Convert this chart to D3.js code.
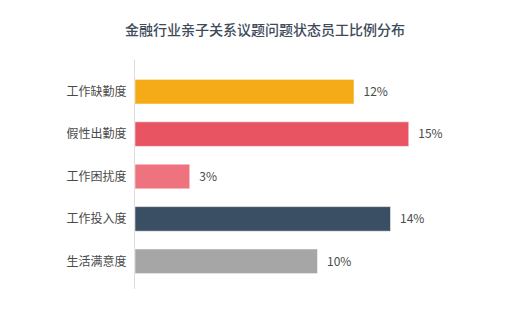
<!DOCTYPE html>
<html>
<head>
<meta charset="utf-8">
<script src="https://cdn.jsdelivr.net/npm/d3@7/dist/d3.min.js"></script>
<style>
  html, body { margin: 0; padding: 0; background: #fff; }
  svg { display: block; font-family: "Noto Sans CJK SC", "Noto Sans", sans-serif; }
</style>
</head>
<body>
<svg id="chart" width="530" height="309"></svg>
<script>
// Share of finance-industry employees by state (%)
const title = "金融行业亲子关系议题问题状态员工比例分布";
const categories = ["工作缺勤度", "假性出勤度", "工作困扰度", "工作投入度", "生活满意度"];
const values = [12, 15, 3, 14, 10];
const barColors = ["#F5AB17", "#E85461", "#EE737E", "#3A4F64", "#A6A6A6"];

const svg = d3.select("#chart");
const axisX = 134.5;

const x = d3.scaleLinear().domain([0, 20]).range([axisX, axisX + 365]);
const y = d3.scaleBand().domain(categories).range([70.5, 282.5])
  .paddingInner(0.42).paddingOuter(0.21);

svg.append("text")
  .attr("x", 265).attr("y", 35)
  .attr("text-anchor", "middle")
  .attr("font-size", 14).attr("font-weight", 500)
  .attr("fill", "#3D4A5A")
  .text(title);

// vertical baseline
svg.append("line")
  .attr("x1", axisX).attr("x2", axisX)
  .attr("y1", 59.5).attr("y2", 289)
  .attr("stroke", "#DDDDDD").attr("stroke-width", 1);

const rows = svg.append("g").selectAll("g").data(categories).join("g");

rows.append("rect")
  .attr("x", x(0) + 0.5)
  .attr("y", d => y(d))
  .attr("width", (d, i) => x(values[i]) - x(0))
  .attr("height", y.bandwidth())
  .attr("fill", (d, i) => barColors[i])
  .attr("stroke", "rgba(255,255,255,0.5)").attr("stroke-width", 1);

rows.append("text")
  .attr("x", axisX - 8)
  .attr("y", d => y(d) + y.bandwidth() / 2)
  .attr("dy", "0.35em")
  .attr("text-anchor", "end")
  .attr("font-size", 12)
  .attr("fill", "#4A4A4A")
  .text(d => d);

rows.append("text")
  .attr("x", (d, i) => x(values[i]) + 10)
  .attr("y", d => y(d) + y.bandwidth() / 2)
  .attr("dy", "0.35em")
  .attr("font-size", 12)
  .attr("fill", "#4A4A4A")
  .text((d, i) => values[i] + "%");
</script>
</body>
</html>
